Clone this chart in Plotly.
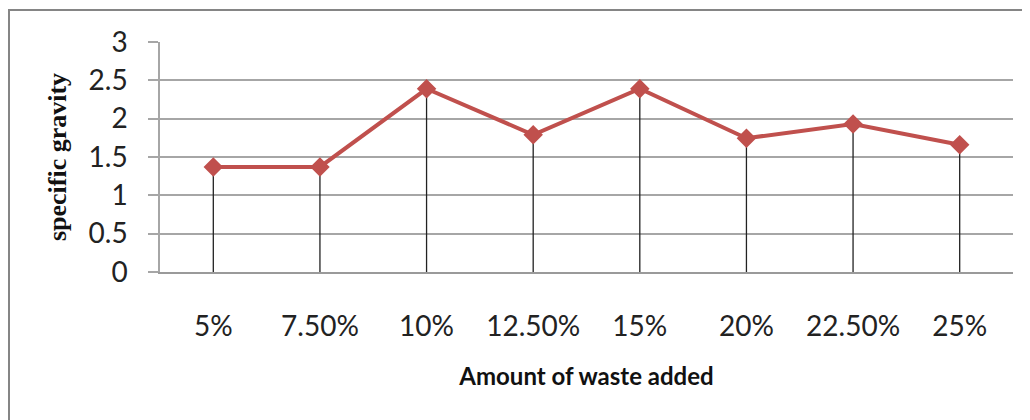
import plotly.graph_objects as go

categories = ["5%", "7.50%", "10%", "12.50%", "15%", "20%", "22.50%", "25%"]
specific_gravity = [1.37, 1.37, 2.39, 1.79, 2.39, 1.745, 1.93, 1.66]
y_ticks = [0, 0.5, 1, 1.5, 2, 2.5, 3]
y_tick_labels = ["0", "0.5", "1", "1.5", "2", "2.5", "3"]

# page offset from default body margin
OFF = 8
W, H = 1030 - OFF, 420 - OFF
# plot area in page pixels
L, R, T, B = 160 - OFF, 1013 - OFF, 42 - OFF, 272 - OFF

fig = go.Figure()
fig.add_trace(go.Scatter(
    x=categories, y=specific_gravity, mode="lines+markers",
    line=dict(color="#C0504D", width=4),
    marker=dict(symbol="diamond", size=15, color="#C0504D"),
    error_y=dict(type="data", symmetric=False, array=[0] * len(specific_gravity),
                 arrayminus=specific_gravity, width=0, thickness=1.3, color="#222222"),
    showlegend=False,
))

# outer chart border
px = lambda v: (v - OFF - L) / (R - L)
py = lambda v: (B - (v - OFF)) / (B - T)
fig.add_shape(type="rect", xref="paper", yref="paper",
              x0=px(9), x1=px(1045), y0=py(440), y1=py(10),
              line=dict(color="#858585", width=2), fillcolor="rgba(0,0,0,0)", layer="below")

fig.update_layout(
    width=W, height=H,
    margin=dict(l=L, r=W - R, t=T, b=H - B, pad=0),
    paper_bgcolor="white", plot_bgcolor="white",
    font=dict(family="Lato, 'Open Sans', sans-serif", color="#222222"),
    xaxis=dict(
        type="category", showgrid=False, zeroline=False,
        showline=True, linecolor="#9a9a9a", linewidth=2,
        ticks="", tickfont=dict(size=28, family="Lato"),
        ticklabelstandoff=28,
        title=dict(text="Amount of waste added",
                   font=dict(size=24, family="Lato", weight="bold", color="#111111"), standoff=28),
        range=[-0.5, len(categories) - 0.5],
    ),
    yaxis=dict(
        range=[0, 3], tickvals=y_ticks, ticktext=y_tick_labels,
        showgrid=True, gridcolor="#a6a6a6", gridwidth=1.5, zeroline=False,
        showline=True, linecolor="#a6a6a6", linewidth=1.5,
        ticks="outside", ticklen=10, tickcolor="#a6a6a6", tickwidth=1.5,
        tickfont=dict(size=28, family="Lato"), ticklabelstandoff=15,
        title=dict(text="specific gravity",
                   font=dict(size=26, family="'Liberation Serif', 'Times New Roman', serif",
                             weight="bold", color="#111111"), standoff=14),
    ),
)

fig.write_html("out.html")
